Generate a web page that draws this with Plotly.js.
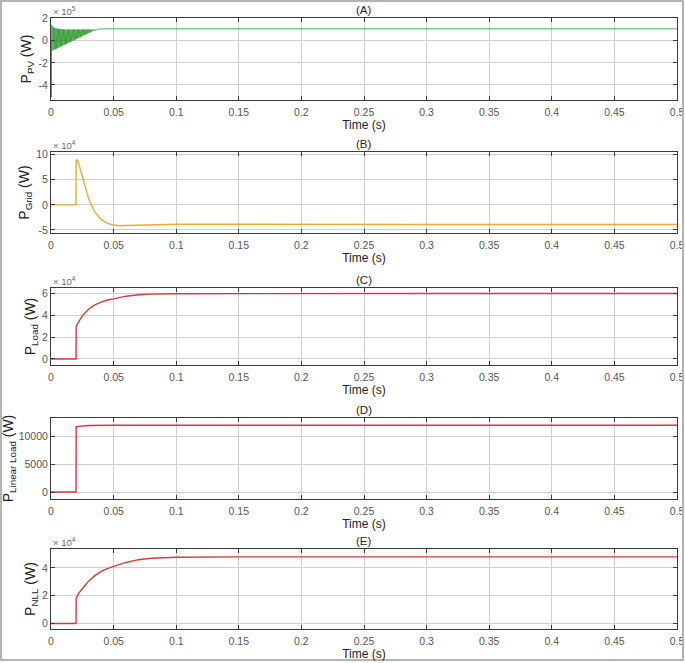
<!DOCTYPE html>
<html>
<head>
<meta charset="utf-8">
<script src="https://cdn.plot.ly/plotly-3.0.1.min.js"></script>
<style>
  html, body { margin: 0; padding: 0; background: #fff; }
  #chart { width: 685px; height: 663px; }
</style>
</head>
<body>
<div id="chart"></div>
<script>
"use strict"

// time stamps (s) and powers (W)
var pvTime = [0, 0.0002, 0.0005,
	0.0010, 0.0015, 0.0020, 0.0025, 0.0030, 0.0035, 0.0040, 0.0045, 0.0050, 0.0055,
	0.0060, 0.0065, 0.0070, 0.0075, 0.0080, 0.0085, 0.0090, 0.0095, 0.0100, 0.0105,
	0.0110, 0.0115, 0.0120, 0.0125, 0.0130, 0.0135, 0.0140, 0.0145, 0.0150, 0.0155,
	0.0160, 0.0165, 0.0170, 0.0175, 0.0180, 0.0185, 0.0190, 0.0195, 0.0200, 0.0205,
	0.0210, 0.0215, 0.0220, 0.0225, 0.0230, 0.0235, 0.0240, 0.0245, 0.0250, 0.0255,
	0.0260, 0.0265, 0.0270, 0.0275, 0.0280, 0.0285, 0.0290, 0.0295, 0.0300, 0.0305,
	0.0310, 0.0315, 0.0320, 0.0325, 0.0330, 0.0335,
	0.0345, 0.0355, 0.037, 0.040, 0.042, 0.05, 0.1, 0.2, 0.3, 0.4, 0.5];
var pvPower = [0, -5.1e5, 1.4e5,
	1.30e5, -0.88e5, 1.22e5, -0.82e5, 1.16e5, -0.77e5, 1.12e5, -0.71e5, 1.10e5, -0.66e5,
	1.08e5, -0.60e5, 1.06e5, -0.55e5, 1.05e5, -0.49e5, 1.04e5, -0.44e5, 1.03e5, -0.38e5,
	1.02e5, -0.33e5, 1.02e5, -0.27e5, 1.02e5, -0.22e5, 1.02e5, -0.16e5, 1.02e5, -0.11e5,
	1.02e5, -0.05e5, 1.02e5, 0.00e5, 1.02e5, 0.06e5, 1.02e5, 0.11e5, 1.02e5, 0.17e5,
	1.02e5, 0.22e5, 1.02e5, 0.28e5, 1.02e5, 0.33e5, 1.02e5, 0.39e5, 1.02e5, 0.44e5,
	1.02e5, 0.50e5, 1.02e5, 0.55e5, 1.02e5, 0.61e5, 1.02e5, 0.66e5, 1.02e5, 0.72e5,
	1.02e5, 0.77e5, 1.02e5, 0.83e5, 1.02e5, 0.88e5,
	1.02e5, 0.95e5, 1.04e5, 1.07e5, 1.08e5, 1.08e5, 1.08e5, 1.08e5, 1.08e5, 1.08e5, 1.08e5];

var gridTime = [0, 0.02, 0.0201, 0.021, 0.022, 0.024, 0.026, 0.028, 0.030, 0.032, 0.035, 0.040, 0.045,
	0.050, 0.055, 0.060, 0.070, 0.080, 0.10, 0.15, 0.20, 0.30, 0.40, 0.50];
var gridPower = [0, 0, 8.8e4, 8.9e4, 8.3e4, 6.5e4, 4.5e4, 2.8e4, 1.3e4, 0, -1.4e4, -2.9e4, -3.7e4,
	-4.0e4, -4.15e4, -4.1e4, -4.0e4, -3.9e4, -3.85e4, -3.85e4, -3.9e4, -3.9e4, -3.9e4, -3.9e4];

var loadTime = [0, 0.02, 0.0201, 0.022, 0.025, 0.030, 0.035, 0.040, 0.045, 0.050, 0.060, 0.070, 0.080,
	0.10, 0.15, 0.30, 0.50];
var loadPower = [0, 0, 3.0e4, 3.4e4, 3.95e4, 4.55e4, 4.95e4, 5.2e4, 5.4e4, 5.5e4, 5.75e4, 5.88e4, 5.94e4,
	5.98e4, 6.0e4, 6.0e4, 6.0e4];

var linTime = [0, 0.02, 0.0201, 0.025, 0.030, 0.050, 0.10, 0.30, 0.50];
var linPower = [0, 0, 11750, 11850, 11950, 12000, 12000, 12000, 12000];

var nllTime = [0, 0.02, 0.0201, 0.022, 0.025, 0.030, 0.035, 0.040, 0.045, 0.050, 0.060, 0.070, 0.080,
	0.10, 0.15, 0.30, 0.50];
var nllPower = [0, 0, 1.8e4, 2.15e4, 2.5e4, 3.05e4, 3.45e4, 3.75e4, 3.95e4, 4.12e4, 4.4e4, 4.6e4, 4.7e4,
	4.78e4, 4.8e4, 4.8e4, 4.8e4];

var panelTitles = ['(A)', '(B)', '(C)', '(D)', '(E)'];
var yTitles = ['P<sub>PV</sub> (W)', 'P<sub>Grid</sub> (W)', 'P<sub>Load</sub> (W)',
	'P<sub>Linear Load</sub> (W)', 'P<sub>NLL</sub> (W)'];
var exponents = ['5', '4', '4', '', '4'];
var yTickVals = [[-4e5, -2e5, 0, 2e5], [-5e4, 0, 5e4, 10e4], [0, 2e4, 4e4, 6e4], [0, 5000, 10000], [0, 2e4, 4e4]];
var yTickText = [['-4', '-2', '0', '2'], ['-5', '0', '5', '10'], ['0', '2', '4', '6'], ['0', '5000', '10000'], ['0', '2', '4']];
var yRanges = [[-5.36e5, 2.06e5], [-5.6e4, 10.5e4], [-0.55e4, 6.5e4], [-1250, 13300], [-0.4e4, 5.37e4]];

var W = 685, H = 663;
// plot boxes in pixels: [top, bottom]
var boxes = [[18, 100], [152, 233], [288, 365], [418, 499], [549, 629]];
var left = 51, right = 677;

var colors = ['#2a962a', '#e8aa3a', '#d63a3c', '#d63a3c', '#d63a3c'];
var widths = [0.8, 1.4, 1.4, 1.4, 1.4];
var series = [[pvTime, pvPower], [gridTime, gridPower], [loadTime, loadPower], [linTime, linPower], [nllTime, nllPower]];

var font = 'Liberation Sans, Arial, sans-serif';
var data = [];
var layout = {
	width: W,
	height: H,
	margin: {l: 0, r: 0, t: 0, b: 0},
	paper_bgcolor: '#fff',
	plot_bgcolor: '#fff',
	showlegend: false,
	font: {family: font, size: 10, color: '#555'},
	annotations: [],
	shapes: [{
		type: 'rect', xref: 'paper', yref: 'paper',
		x0: 1 / W, x1: 1 - 2 / W, y0: 3 / H, y1: 1 - 1 / H,
		line: {color: '#b4b4b4', width: 2}
	}]
};

for (var i = 0; i < 5; i++) {
	var n = i == 0 ? '' : String(i + 1);
	data.push({
		x: series[i][0],
		y: series[i][1],
		xaxis: 'x' + n,
		yaxis: 'y' + n,
		type: 'scatter',
		mode: 'lines',
		line: {color: colors[i], width: widths[i]},
		hoverinfo: 'none'
	});

	var y0 = (H - boxes[i][1]) / H,
		y1 = (H - boxes[i][0]) / H;

	layout['xaxis' + n] = {
		domain: [left / W, right / W],
		anchor: 'y' + n,
		range: [0, 0.5],
		tick0: 0,
		dtick: 0.05,
		showgrid: true,
		gridcolor: '#cfcfcf',
		zeroline: false,
		showline: true,
		linecolor: '#3a3a3a',
		linewidth: 1,
		mirror: 'ticks',
		ticks: 'inside',
		ticklen: 4,
		tickcolor: '#3a3a3a',
		ticklabelstandoff: 2,
		tickfont: {family: font, size: 10.5, color: '#555'},
		title: {text: 'Time (s)', font: {family: font, size: 12, color: '#222'}, standoff: 2}
	};
	layout['yaxis' + n] = {
		domain: [y0, y1],
		anchor: 'x' + n,
		range: yRanges[i],
		tickvals: yTickVals[i],
		ticktext: yTickText[i],
		showgrid: true,
		gridcolor: '#cfcfcf',
		zeroline: false,
		showline: true,
		linecolor: '#3a3a3a',
		linewidth: 1,
		mirror: 'ticks',
		ticks: 'inside',
		ticklen: 4,
		tickcolor: '#3a3a3a',
		tickfont: {family: font, size: 10.5, color: '#555'},
		title: {text: yTitles[i], font: {family: font, size: 14, color: '#222'}, standoff: 3}
	};

	layout.annotations.push({
		xref: 'paper', yref: 'paper',
		x: 364 / W, y: y1,
		xanchor: 'center', yanchor: 'bottom',
		text: panelTitles[i],
		showarrow: false,
		font: {family: font, size: 11.5, color: '#222'}
	});
	if (exponents[i] !== '') {
		layout.annotations.push({
			xref: 'paper', yref: 'paper',
			x: left / W, y: y1 - 1 / H,
			xanchor: 'left', yanchor: 'bottom',
			text: '\u00d7 10<sup>' + exponents[i] + '</sup>',
			showarrow: false,
			font: {family: font, size: 9.5, color: '#666'}
		});
	}
}

Plotly.newPlot('chart', data, layout, {displayModeBar: false, staticPlot: true});
</script>
</body>
</html>
